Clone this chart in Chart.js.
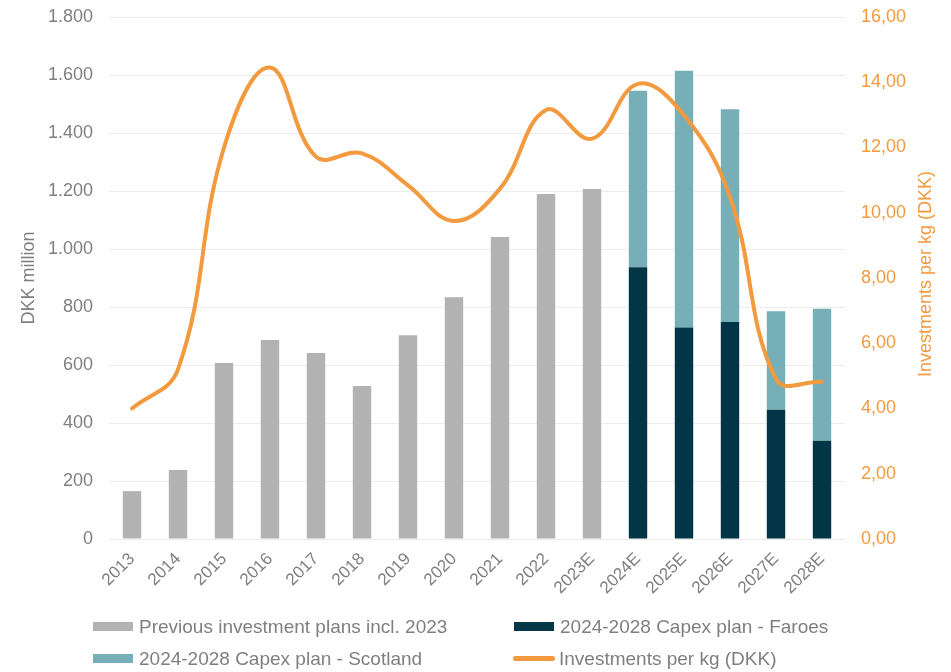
<!DOCTYPE html>
<html>
<head>
<meta charset="utf-8">
<script src="https://cdn.jsdelivr.net/npm/chart.js@4.4.1/dist/chart.umd.min.js"></script>
<style>
  body { margin: 0; background: #fff; }
  #wrap { position: relative; width: 951px; height: 672px; }
  .leg { position: absolute; font: 19px "Liberation Sans", Arial, sans-serif; color: #7f7f7f; white-space: nowrap; line-height: 22px; }
  .leg span.box { position: absolute; left: 0; top: 6px; width: 40px; height: 9px; }
  .leg span.ln { position: absolute; left: 0; top: 8px; width: 42px; height: 5px; border-radius: 3px; }
  .leg span.txt { margin-left: 46px; }
</style>
</head>
<body>
<div id="wrap">
  <canvas id="myChart" width="951" height="672"></canvas>
  <div id="legend"></div>
</div>
<script>
var categories = ['2013', '2014', '2015', '2016', '2017', '2018', '2019', '2020', '2021', '2022', '2023E', '2024E', '2025E', '2026E', '2027E', '2028E'];
var previousPlans = [165, 238, 607, 686, 641, 528, 703, 834, 1041, 1190, 1207, null, null, null, null, null];
var faroesPlan = [null, null, null, null, null, null, null, null, null, null, null, 937, 729, 748, 446, 339];
var scotlandPlan = [null, null, null, null, null, null, null, null, null, null, null, 609, 886, 734, 339, 455];
var perKg = [4.0, 5.2, 12.0, 14.45, 11.72, 11.82, 10.84, 9.75, 10.74, 13.15, 12.27, 13.95, 12.99, 10.48, 4.9, 4.82];

var grey = '#7f7f7f';
var orange = '#f39a3e';
var font = '"Liberation Sans", Arial, sans-serif';

// axis titles drawn by hand so the right one reads bottom-to-top like the original
var axisTitles = {
    id: 'axisTitles',
    afterDraw: function (chart) {
        var ctx = chart.ctx;
        var a = chart.chartArea;
        var mid = (a.top + a.bottom) / 2;
        ctx.save();
        ctx.font = '18px ' + font;
        ctx.textAlign = 'center';
        ctx.textBaseline = 'middle';
        ctx.translate(29, mid);
        ctx.rotate(-Math.PI / 2);
        ctx.fillStyle = grey;
        ctx.fillText('DKK million', 0, 0);
        ctx.restore();
        ctx.save();
        ctx.font = '18px ' + font;
        ctx.textAlign = 'center';
        ctx.textBaseline = 'middle';
        ctx.translate(926, mid - 4);
        ctx.rotate(-Math.PI / 2);
        ctx.fillStyle = orange;
        ctx.fillText('Investments per kg (DKK)', 0, 0);
        ctx.restore();
    }
};

// fixed axis sizes so the plot area sits where it does in the original
function fixVertical(w) {
    return function (s) {
        s.width = w;
        s.paddingTop = 0;
        s.paddingBottom = 0;
    };
}

var chart = new Chart(document.getElementById('myChart'), {
    type: 'bar',
    data: {
        labels: categories,
        datasets: [{
            type: 'line',
            label: 'Investments per kg (DKK)',
            data: perKg,
            yAxisID: 'y1',
            borderColor: orange,
            backgroundColor: orange,
            borderWidth: 4,
            borderCapStyle: 'round',
            pointRadius: 0,
            tension: 0.4,
            fill: false,
            order: 0
        }, {
            label: 'Previous investment plans incl. 2023',
            data: previousPlans,
            backgroundColor: '#b2b2b2',
            order: 1
        }, {
            label: '2024-2028 Capex plan - Faroes',
            data: faroesPlan,
            backgroundColor: '#023646',
            order: 1
        }, {
            label: '2024-2028 Capex plan - Scotland',
            data: scotlandPlan,
            backgroundColor: '#76afb8',
            order: 1
        }]
    },
    options: {
        responsive: false,
        animation: false,
        layout: { padding: { top: 17, left: 0, right: 0, bottom: 0 } },
        datasets: { bar: { barPercentage: 0.5, categoryPercentage: 0.8 } },
        plugins: { legend: { display: false }, tooltip: { enabled: false } },
        scales: {
            x: {
                stacked: true,
                grid: { display: false },
                border: { display: false },
                ticks: { color: grey, font: { family: font, size: 17 }, minRotation: 45, maxRotation: 45, padding: 2, autoSkip: false },
                afterFit: function (s) { s.height = 133; }
            },
            y: {
                stacked: true,
                min: 0, max: 1800,
                grid: { color: '#ececec', drawTicks: false },
                border: { display: false },
                ticks: {
                    stepSize: 200, color: grey, padding: 16, font: { family: font, size: 18 },
                    callback: function (v) { return String(v).replace(/\B(?=(\d{3})+(?!\d))/g, '.'); }
                },
                afterFit: fixVertical(109)
            },
            y1: {
                position: 'right',
                min: 0, max: 16,
                grid: { display: false, drawTicks: false },
                border: { display: false },
                ticks: {
                    stepSize: 2, color: orange, padding: 16, font: { family: font, size: 18 },
                    callback: function (v) { return v.toFixed(2).replace('.', ','); }
                },
                afterFit: fixVertical(106)
            }
        }
    },
    plugins: [axisTitles]
});

// two-column legend under the plot, built from the chart's datasets
var ds = chart.data.datasets;
var legendItems = [
    { d: ds[1], left: 93, top: 616 },
    { d: ds[2], left: 514, top: 616 },
    { d: ds[3], left: 93, top: 648 },
    { d: ds[0], left: 513, top: 648, line: true }
];
var legend = document.getElementById('legend');
legendItems.forEach(function (it) {
    var el = document.createElement('div');
    el.className = 'leg';
    el.style.left = it.left + 'px';
    el.style.top = it.top + 'px';
    el.innerHTML = '<span class="' + (it.line ? 'ln' : 'box') + '" style="background:' +
        (it.line ? it.d.borderColor : it.d.backgroundColor) + '"></span><span class="txt">' + it.d.label + '</span>';
    legend.appendChild(el);
});
</script>
</body>
</html>
